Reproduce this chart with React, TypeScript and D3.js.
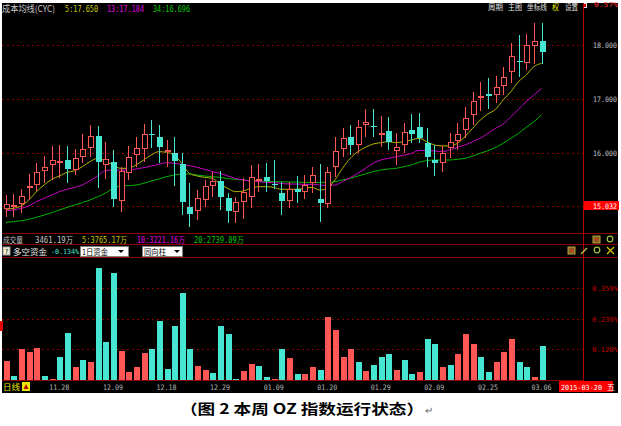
import React from "react";
import * as d3 from "d3";

const dates = ["11.19","11.20","11.21","11.24","11.25","11.26","11.27","11.28","12.01","12.02","12.03","12.04","12.05","12.08","12.09","12.10","12.11","12.12","12.15","12.16","12.17","12.18","12.19","12.22","12.23","12.24","12.25","12.26","12.29","12.30","12.31","01.05","01.06","01.07","01.08","01.09","01.12","01.13","01.14","01.15","01.16","01.19","01.20","01.21","01.22","01.23","01.26","01.27","01.28","01.29","01.30","02.02","02.03","02.04","02.05","02.06","02.09","02.10","02.11","02.12","02.13","02.16","02.17","02.25","02.26","02.27","03.02","03.03","03.04","03.05","03.06"];
const tickLabels = ["11.28","12.09","12.18","12.29","01.09","01.20","01.29","02.09","02.25","03.06"];

const openP = [14.947,14.984,15.040,15.380,15.398,15.663,15.762,15.840,15.861,15.676,15.923,16.077,16.305,15.768,15.830,15.108,15.614,15.953,16.058,16.340,16.293,16.044,15.984,15.787,14.984,14.916,15.120,15.386,15.472,15.163,14.904,15.089,15.182,15.510,15.540,15.410,15.256,15.108,15.324,15.274,15.441,15.139,15.040,15.738,16.058,16.293,16.139,16.503,16.500,16.360,16.398,16.034,16.139,16.417,16.466,16.182,15.861,15.800,16.078,16.220,16.417,16.695,17.003,17.084,17.065,17.232,17.497,17.700,17.664,17.973,18.071];
const highP = [15.213,15.231,15.318,15.602,15.799,15.935,16.120,16.133,16.120,16.059,16.336,16.509,16.491,16.200,16.046,15.738,16.120,16.293,16.521,16.602,16.509,16.231,16.281,15.985,15.429,15.306,15.491,15.645,15.663,15.244,15.182,15.521,15.768,15.781,15.812,15.861,15.460,15.460,15.565,15.583,15.737,15.787,15.737,16.293,16.447,16.509,16.602,16.799,16.805,16.676,16.651,16.355,16.540,16.713,16.725,16.448,16.139,16.121,16.355,16.540,16.837,17.127,17.312,17.374,17.417,17.590,18.022,18.176,18.195,18.405,18.405];
const lowP = [14.812,14.812,14.873,15.120,15.293,15.429,15.491,15.534,15.441,15.583,15.799,15.923,15.336,15.503,14.997,14.904,15.491,15.738,15.830,16.077,15.799,15.738,15.380,14.842,14.614,14.750,14.997,15.182,14.935,14.700,14.688,14.762,14.966,15.274,15.274,15.318,14.842,14.966,15.059,15.132,15.256,14.719,14.978,15.540,15.923,15.954,15.985,16.293,16.281,16.108,16.046,15.768,15.985,16.170,16.170,15.738,15.565,15.645,15.892,16.047,16.263,16.510,16.775,16.800,16.911,17.065,17.293,17.392,17.528,17.639,17.639];
const closeP = [15.046,15.021,15.200,15.386,15.633,15.737,15.855,15.846,15.694,15.904,16.058,16.311,15.824,15.879,15.133,15.663,15.910,16.089,16.342,16.335,16.096,16.049,15.849,15.089,14.861,15.151,15.380,15.472,15.182,14.916,15.077,15.274,15.540,15.515,15.478,15.398,15.102,15.318,15.262,15.392,15.577,15.059,15.639,16.034,16.274,16.139,16.478,16.558,16.497,16.370,16.200,16.096,16.386,16.336,16.263,15.911,15.812,15.997,16.189,16.337,16.633,16.954,17.053,17.047,17.207,17.392,17.787,17.695,17.991,18.071,17.868];

const cyc5 = [14.947,14.966,15.009,15.120,15.275,15.398,15.503,15.565,15.632,15.663,15.737,15.830,15.892,15.843,15.768,15.707,15.707,15.768,15.861,15.953,16.015,16.003,15.953,15.799,15.614,15.565,15.540,15.521,15.416,15.336,15.275,15.287,15.336,15.367,15.367,15.355,15.318,15.318,15.318,15.336,15.355,15.305,15.336,15.491,15.707,15.892,16.015,16.095,16.157,16.182,16.200,16.182,16.200,16.231,16.262,16.201,16.139,16.121,16.121,16.170,16.294,16.448,16.602,16.713,16.800,16.973,17.127,17.312,17.435,17.590,17.650];
const cyc13 = [14.922,14.935,14.966,15.009,15.089,15.151,15.213,15.275,15.318,15.355,15.398,15.478,15.565,15.663,15.676,15.676,15.676,15.694,15.719,15.750,15.781,15.812,15.799,15.781,15.756,15.725,15.688,15.645,15.614,15.565,15.521,15.491,15.472,15.460,15.447,15.441,15.429,15.416,15.416,15.410,15.410,15.398,15.386,15.398,15.460,15.534,15.614,15.707,15.799,15.861,15.892,15.923,15.947,15.984,16.040,16.034,16.028,16.016,16.047,16.096,16.139,16.201,16.263,16.355,16.448,16.528,16.664,16.800,16.942,17.065,17.184];
const cyc34 = [14.707,14.719,14.737,14.762,14.799,14.842,14.886,14.935,14.984,15.028,15.071,15.120,15.182,15.244,15.336,15.380,15.386,15.398,15.429,15.472,15.509,15.552,15.583,15.602,15.602,15.583,15.565,15.552,15.540,15.515,15.503,15.491,15.478,15.472,15.466,15.460,15.460,15.453,15.453,15.447,15.447,15.447,15.447,15.460,15.491,15.521,15.565,15.602,15.645,15.676,15.694,15.707,15.737,15.768,15.820,15.849,15.861,15.861,15.861,15.874,15.892,15.935,15.985,16.034,16.096,16.170,16.263,16.355,16.466,16.571,16.696];

const fund = [0.075,-0.015,0.121,0.108,0.125,-0.015,0.004,-0.091,-0.184,0.050,-0.077,0.070,-0.440,-0.147,-0.420,0.115,0.033,0.049,0.105,-0.121,-0.232,-0.042,-0.210,-0.341,-0.121,0.055,0.039,-0.029,-0.213,-0.181,-0.005,0.035,0.063,-0.055,-0.010,0.005,-0.121,0.085,-0.024,0.024,0.050,-0.040,0.245,0.197,0.090,0.120,-0.070,0.035,-0.060,-0.090,-0.100,0.040,-0.080,-0.025,0.030,-0.160,-0.140,0.050,-0.060,0.100,0.180,0.140,-0.090,-0.030,0.070,0.110,0.160,-0.070,-0.050,0.010,-0.135];

const priceTicks = [18, 17, 16];
const markPrice = 15.032;
const fundTicks = [0.359, 0.239, 0.12];

const RED = "#ff5656";
const CYAN = "#46e6d2";
const GRID = "#8c0000";
const NUM = "'DejaVu Sans Mono', 'Noto Sans CJK SC', monospace";
const CN = "'Noto Sans CJK SC', sans-serif";

export default function App() {
  const x = d3.scalePoint<string>().domain(dates).range([5.8, 541.5]);
  const y = d3.scaleLinear().domain([15, 18]).range([206.5, 44.5]);
  const yb = d3.scaleLinear().domain([0, 0.359]).range([380, 288.3]);
  const idx = d3.range(dates.length);
  const lineGen = (arr: number[]) =>
    d3.line<number>().x((i) => x(dates[i]) as number).y((i) => y(arr[i])).curve(d3.curveMonotoneX)(idx) as string;

  const label = (t: string, xx: number, yy: number, fill: string, len?: number, size = 8, family = NUM) => (
    <text x={xx} y={yy} fill={fill} fontSize={size} fontFamily={family}
      textLength={len} lengthAdjust={len ? "spacingAndGlyphs" : undefined}>{t}</text>
  );

  return (
    <svg width={621} height={426} style={{ position: "absolute", left: 0, top: 0, background: "#fff" }}>
      <rect x={2} y={3} width={616} height={390} fill="#000" />
      {/* header row */}
      {label("成本均线(CYC)", 2, 12, "#c8c8c8", 53, 9, CN)}
      {label("5:17.650", 65, 12, "#c8c800", 33)}
      {label("13:17.184", 107, 12, "#e000e0", 37)}
      {label("34:16.696", 153, 12, "#00c800", 37)}
      {label("周期", 488, 10, "#e0e0e0", 15, 8, CN)}
      {label("主图", 508, 10, "#e0e0e0", 14, 8, CN)}
      {label("坐标线", 527, 10, "#e0e0e0", 20, 8, CN)}
      {label("权", 552, 10, "#e8e800", 7, 8, CN)}
      {label("设置", 565, 10, "#e0e0e0", 13, 8, CN)}
      <rect x={583} y={3} width={4} height={5} fill="#e0e0e0" />
      <rect x={584} y={4} width={2} height={3} fill="#e00000" />
      {label("0.57%", 594, 7, "#ff3030", 24, 7)}

      {/* price grid */}
      {priceTicks.map((p) => (
        <g key={p}>
          <line x1={2} x2={583} y1={Math.round(y(p)) + 0.5} y2={Math.round(y(p)) + 0.5} stroke={GRID} strokeDasharray="2,3" />
          {label(p.toFixed(3), 593, Math.round(y(p)) + 3, "#c0c0c0", 24, 7.5)}
        </g>
      ))}
      <line x1={2} x2={583} y1={Math.round(y(markPrice)) + 1.5} y2={Math.round(y(markPrice)) + 1.5} stroke={GRID} strokeDasharray="2,3" />
      <rect x={583} y={Math.round(y(markPrice)) - 4} width={36} height={9} fill="#ff0000" />
      {label(markPrice.toFixed(3), 593, Math.round(y(markPrice)) + 4, "#ffffff", 24, 7.5)}

      {/* cost average lines */}
      <path d={lineGen(cyc34)} fill="none" stroke="#00b400" strokeWidth={1} />
      <path d={lineGen(cyc13)} fill="none" stroke="#c800c8" strokeWidth={1} />
      <path d={lineGen(cyc5)} fill="none" stroke="#b4b400" strokeWidth={1} />

      {/* candles */}
      {idx.map((i) => {
        const c = Math.round(x(dates[i]) as number);
        const up = closeP[i] >= openP[i];
        const col = up ? RED : CYAN;
        const top = Math.round(y(Math.max(openP[i], closeP[i])));
        const bot = Math.max(top + 1, Math.round(y(Math.min(openP[i], closeP[i]))));
        const hi = Math.round(y(highP[i]));
        const lo = Math.round(y(lowP[i]));
        return (
          <g key={i} shapeRendering="crispEdges">
            <line x1={c + 0.5} x2={c + 0.5} y1={hi} y2={top} stroke={col} />
            <line x1={c + 0.5} x2={c + 0.5} y1={bot} y2={lo} stroke={col} />
            {up ? (
              <rect x={c - 1.5} y={top + 0.5} width={5} height={Math.max(1, bot - top - 1)} fill="#000" stroke={col} />
            ) : (
              <rect x={c - 2} y={top} width={6} height={Math.max(1, bot - top)} fill={col} />
            )}
          </g>
        );
      })}

      {/* separators */}
      <line x1={2} x2={618} y1={233.5} y2={233.5} stroke="#8c0000" />
      <line x1={2} x2={618} y1={244.5} y2={244.5} stroke="#8c0000" />
      <line x1={2} x2={618} y1={257.5} y2={257.5} stroke="#8c0000" />
      <line x1={583.5} x2={583.5} y1={3} y2={393} stroke="#b40000" />

      {/* volume row */}
      {label("成交量", 3, 243, "#c8c8c8", 20, 8, CN)}
      {label("3461.19万", 35, 243, "#c8c8c8", 38)}
      {label("5:3765.17万", 82, 243, "#c8c800", 45)}
      {label("10:3221.16万", 137, 243, "#e000e0", 48)}
      {label("20:2739.09万", 194, 243, "#00c800", 50)}
      <rect x={593} y={236} width={7} height={7} fill="#806020" stroke="#c0a040" />
      <rect x={595.5} y={238.5} width={2} height={2} fill="#ff2020" />
      <circle cx={610} cy={239} r={2.8} fill="none" stroke="#a0c040" strokeWidth={1.2} />

      {/* fund row */}
      <rect x={3} y={247} width={7} height={8} fill="#f0f0d0" stroke="#a0a0a0" />
      {label("?", 4.5, 254, "#000", 4, 7)}
      {label("多空资金", 13, 255, "#e8e8e8", 34, 8, CN)}
      {label("-0.134%", 51, 254, "#40e0d0", 28, 7)}
      <rect x={80.5} y={246.5} width={48} height={10} fill="#fff" stroke="#808080" />
      {label("1日资金", 82, 255, "#000", 26, 8, CN)}
      <path d="M118,250 L124,250 L121,253 Z" fill="#000" />
      <rect x={142.5} y={246.5} width={40} height={10} fill="#fff" stroke="#808080" />
      {label("同向柱", 144, 255, "#000", 22, 8, CN)}
      <path d="M174,250 L180,250 L177,253 Z" fill="#000" />
      <rect x={568} y={247} width={7} height={7} fill="#806020" stroke="#c0a040" />
      <rect x={570.5} y={249.5} width={2} height={2} fill="#ff2020" />
      <path d="M581,254 L587,248" stroke="#c0c040" strokeWidth={1.5} />
      <circle cx={597} cy={250} r={2.8} fill="none" stroke="#a0c040" strokeWidth={1.2} />
      <path d="M607,247 L614,254 M614,247 L607,254" stroke="#d0c000" strokeWidth={1.3} />

      {/* fund grid */}
      {fundTicks.map((v) => (
        <g key={v}>
          <line x1={2} x2={583} y1={Math.round(yb(v)) + 0.5} y2={Math.round(yb(v)) + 0.5} stroke={GRID} strokeDasharray="2,3" />
          {label(v.toFixed(3) + "%", 592, Math.round(yb(v)) + 3, "#c00000", 26, 7)}
        </g>
      ))}
      <rect x={0} y={321} width={3} height={10} fill="#e00000" />

      {/* fund bars */}
      {idx.map((i) => {
        const c = x(dates[i]) as number;
        const v = fund[i];
        const top = yb(Math.abs(v));
        return (
          <rect key={i} x={Math.round(c) - 2.5} y={top} width={6} height={Math.max(0.5, 380 - top)}
            fill={v >= 0 ? RED : CYAN} shapeRendering="crispEdges" />
        );
      })}
      <line x1={2} x2={583} y1={380.5} y2={380.5} stroke="#8c0000" />

      {/* x axis */}
      {label("日线", 3, 390, "#e8e800", 17, 8, CN)}
      <rect x={22} y={382} width={8} height={9} fill="#e8e800" />
      <path d="M23.5,389 L26,384 L28.5,389 Z" fill="#c00000" />
      {tickLabels.map((t) => (
        <text key={t} x={x(t) as number} y={390} fill="#b4b4b4" fontSize={7.5} fontFamily={NUM}
          textAnchor="middle" textLength={20} lengthAdjust="spacingAndGlyphs">{t}</text>
      ))}
      <rect x={559} y={381} width={54} height={11} fill="#ff0000" />
      {label("2015-03-20", 561, 390, "#ffffff", 41, 7)}
      {label("五", 607, 390, "#ffffff", 8, 8, CN)}

      {/* caption */}
      <text x={180} y={414} fill="#000" fontSize={14} fontWeight="bold" fontFamily={CN}
        textLength={244} lengthAdjust="spacingAndGlyphs">（图 2 本周 OZ 指数运行状态）</text>
      <text x={425} y={414} fill="#666" fontSize={10} fontFamily={CN}>↵</text>
    </svg>
  );
}
